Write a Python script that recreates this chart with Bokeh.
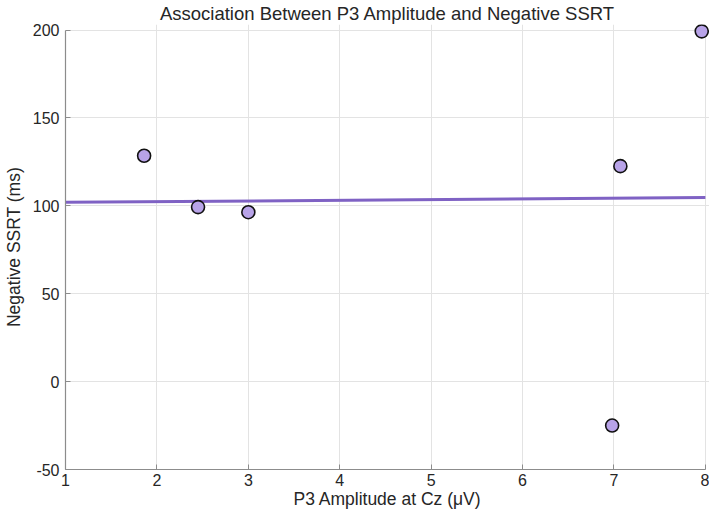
from bokeh.plotting import figure
from bokeh.models import Range1d, FixedTicker, PrintfTickFormatter
from bokeh.embed import file_html
from bokeh.resources import INLINE

# Data
p3_amplitude = [1.86, 2.45, 3.00, 6.98, 7.07, 7.96]
neg_ssrt = [128.5, 99.3, 96.4, -25.0, 122.6, 199.3]
fit_x = [1.0, 8.0]
fit_y = [102.0, 104.8]
x_ticks = [1, 2, 3, 4, 5, 6, 7, 8]
y_ticks = [-50, 0, 50, 100, 150, 200]

FONT = "Liberation Sans"

p = figure(width=709, height=511, output_backend="svg", toolbar_location=None,
           x_range=Range1d(1, 8.045), y_range=Range1d(-50, 203.2),
           min_border_left=61, min_border_right=0, min_border_top=24,
           min_border_bottom=41,
           title="Association Between P3 Amplitude and Negative SSRT")
p.outline_line_color = None
p.background_fill_color = "white"

p.title.text_font = FONT
p.title.text_font_size = "18.5px"
p.title.text_font_style = "normal"
p.title.text_color = "#262626"
p.title.align = "center"
p.title.offset = 0
p.title.standoff = 1

for ax, ticks, bounds in ((p.xaxis[0], x_ticks, (1, 8)), (p.yaxis[0], y_ticks, (-50, 200))):
    ax.ticker = FixedTicker(ticks=ticks)
    ax.formatter = PrintfTickFormatter(format="%d")
    ax.bounds = bounds
    ax.axis_line_color = "#8c8c8c"
    ax.axis_line_width = 1.2
    ax.major_tick_line_color = "#8c8c8c"
    ax.major_tick_in = 5
    ax.major_tick_out = 0
    ax.minor_tick_line_color = None
    ax.major_label_text_font = FONT
    ax.major_label_text_font_size = "16px"
    ax.major_label_text_color = "#262626"
    ax.axis_label_text_font = FONT
    ax.axis_label_text_font_size = "17.5px"
    ax.axis_label_text_font_style = "normal"
    ax.axis_label_text_color = "#262626"

p.xaxis.axis_label = "P3 Amplitude at Cz (μV)"
p.yaxis.axis_label = "Negative SSRT (ms)"
p.xaxis.major_label_standoff = 4
p.yaxis.major_label_standoff = 6
p.xaxis.axis_label_standoff = 0
p.yaxis.axis_label_standoff = 6

p.xgrid.ticker = FixedTicker(ticks=x_ticks)
p.ygrid.ticker = FixedTicker(ticks=y_ticks)
p.xgrid.bounds = (-50, 200)
p.ygrid.bounds = (1, 8)
p.grid.grid_line_color = "#e3e3e3"
p.grid.grid_line_width = 1

p.line(fit_x, fit_y, line_color="#7f62c4", line_width=3)
p.scatter(p3_amplitude, neg_ssrt, size=13, fill_color="#b8a3e8",
          line_color="#111111", line_width=1.6)

open("out.html", "w").write(file_html(p, INLINE))
